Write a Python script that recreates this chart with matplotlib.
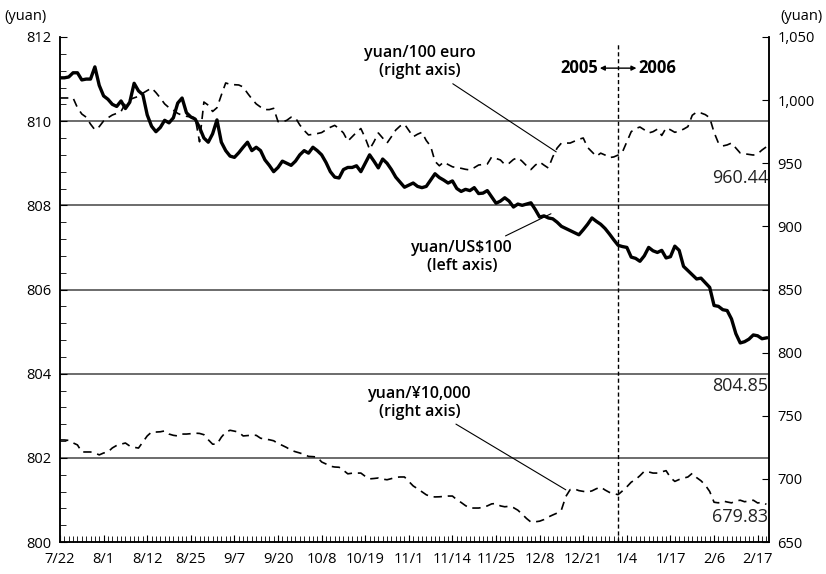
import matplotlib.pyplot as plt
import numpy as np
from matplotlib.ticker import FuncFormatter, MultipleLocator

plt.rcParams['font.family'] = ['Open Sans', 'DejaVu Sans']

# yuan per US$100 (left axis)
usd = [
    811.03, 811.03, 811.05, 811.15, 811.15, 810.98, 811.00, 811.00, 811.29, 810.85,
    810.60, 810.52, 810.40, 810.35, 810.48, 810.30, 810.45, 810.90, 810.72, 810.63,
    810.15, 809.88, 809.75, 809.85, 810.02, 809.96, 810.08, 810.43, 810.55, 810.20,
    810.10, 810.05, 809.85, 809.60, 809.50, 809.70, 810.03, 809.50, 809.30, 809.17,
    809.14, 809.25, 809.38, 809.50, 809.30, 809.38, 809.30, 809.08, 808.95, 808.80,
    808.90, 809.05, 809.00, 808.95, 809.05, 809.20, 809.30, 809.24, 809.38, 809.30,
    809.20, 809.02, 808.80, 808.67, 808.65, 808.85, 808.90, 808.90, 808.94, 808.80,
    809.00, 809.20, 809.05, 808.89, 809.10, 809.00, 808.85, 808.67, 808.55, 808.43,
    808.48, 808.53, 808.45, 808.42, 808.45, 808.60, 808.75, 808.66, 808.60, 808.53,
    808.58, 808.40, 808.33, 808.38, 808.35, 808.42, 808.28, 808.29, 808.35, 808.20,
    808.05, 808.10, 808.18, 808.10, 807.96, 808.03, 808.00, 808.03, 808.06, 807.90,
    807.72, 807.75, 807.70, 807.68, 807.60, 807.50, 807.45, 807.40, 807.35, 807.30,
    807.42, 807.55, 807.70, 807.62, 807.55, 807.45, 807.32, 807.18, 807.05, 807.02,
    807.00, 806.77, 806.74, 806.67, 806.80, 807.00, 806.92, 806.88, 806.93, 806.75,
    806.78, 807.03, 806.93, 806.55, 806.45, 806.35, 806.25, 806.27, 806.16, 806.05,
    805.62, 805.60, 805.52, 805.50, 805.30, 804.95, 804.73, 804.76, 804.82, 804.92,
    804.90, 804.83, 804.85,
]

# yuan per 100 euro (right axis)
euro = [
    1001.7, 1001.7, 1001.7, 1001.7, 994.0, 989.0, 986.5, 981.0, 976.5, 979.0,
    983.5, 986.0, 988.2, 989.5, 991.0, 997.5, 1000.5, 1001.8, 1003.0, 1005.5,
    1007.5, 1009.6, 1006.0, 1001.7, 997.0, 994.0, 992.0, 989.5, 988.0, 987.2,
    986.6, 986.0, 967.0, 998.5, 996.0, 991.0, 994.0, 1004.0, 1013.6, 1012.5,
    1012.2, 1012.0, 1010.4, 1005.5, 1001.0, 997.0, 994.5, 992.5, 992.5, 993.5,
    983.0, 982.7, 984.0, 986.5, 986.0, 980.3, 976.0, 972.4, 973.0, 973.5,
    974.3, 976.5, 978.5, 980.0, 977.5, 974.0, 967.5, 971.0, 974.5, 977.5,
    970.0, 961.0, 967.0, 974.0, 970.0, 966.0, 971.0, 976.3, 979.5, 981.0,
    976.0, 971.0, 973.0, 974.5, 968.0, 963.5, 951.5, 948.0, 951.0, 949.0,
    947.2, 946.5, 946.0, 945.2, 944.7, 946.5, 948.6, 949.0, 949.4, 955.0,
    953.8, 952.6, 949.0, 950.0, 953.0, 954.5, 951.5, 948.0, 945.0, 948.5,
    951.0, 948.5, 946.2, 955.0, 962.0, 966.0, 966.0, 966.0, 967.5, 969.0,
    970.0, 962.5, 959.0, 955.5, 958.0, 956.5, 954.5, 955.0, 956.5, 959.0,
    967.0, 975.0, 977.5, 978.7, 976.5, 974.0, 975.0, 977.0, 972.0, 978.0,
    976.5, 974.5, 975.5, 977.0, 979.0, 988.0, 990.5, 989.8, 988.5, 986.0,
    974.5, 966.0, 963.7, 964.5, 966.0, 962.0, 958.1, 957.5, 957.0, 956.5,
    957.5, 960.5, 963.0,
]

# yuan per 10,000 yen (right axis)
yen = [
    730.8, 730.8, 730.5, 728.5, 726.9, 721.3, 721.3, 721.3, 720.5, 719.0,
    720.5, 721.3, 724.5, 726.5, 727.5, 728.4, 726.0, 725.0, 724.4, 729.2,
    734.0, 737.1, 737.1, 737.3, 738.0, 735.5, 734.5, 734.0, 735.5, 735.5,
    735.8, 736.2, 736.0, 735.0, 731.0, 727.5, 727.5, 733.0, 737.0, 738.5,
    737.8, 737.0, 734.0, 734.3, 734.6, 734.5, 732.2, 731.5, 731.0, 730.2,
    728.0, 726.5, 724.8, 722.6, 721.5, 720.5, 719.3, 717.8, 717.6, 717.3,
    713.4, 711.8, 710.0, 709.4, 709.2, 706.8, 704.0, 704.5, 704.6, 704.6,
    702.0, 700.0, 700.3, 700.7, 699.8, 699.3, 700.2, 701.3, 701.5, 701.5,
    698.0, 694.4, 692.2, 689.8, 687.4, 686.0, 685.7, 685.8, 686.1, 686.4,
    686.4, 683.5, 681.3, 678.8, 676.9, 676.9, 676.9, 677.4, 678.6, 680.2,
    680.5, 678.6, 677.9, 678.3, 677.2, 675.2, 672.0, 668.6, 665.8, 666.0,
    666.5, 667.8, 669.8, 671.4, 672.9, 675.5, 686.0, 691.5, 692.0, 690.7,
    690.1, 689.6, 690.5, 692.2, 693.5, 691.2, 689.3, 688.3, 687.5, 690.5,
    693.7, 697.4, 699.5, 702.5, 706.0, 705.5, 704.6, 704.6, 705.6, 706.5,
    701.0, 698.0, 699.5, 700.6, 701.5, 704.4, 701.0, 698.5, 695.0, 690.0,
    681.5, 681.0, 682.5, 681.7, 681.0, 682.5, 683.1, 681.9, 682.5, 683.1,
    680.9, 681.5, 679.83,
]

# latest values written at the right end of each line
last_euro, last_usd, last_yen = 960.44, 804.85, 679.83

date_labels = ['7/22', '8/1', '8/12', '8/25', '9/7', '9/20', '10/8', '10/19', '11/1',
               '11/14', '11/25', '12/8', '12/21', '1/4', '1/17', '2/6', '2/17']
label_step = 10
first_2006 = 128  # first data point of 2006

x = np.arange(len(usd))

fig = plt.figure(figsize=(8.26, 5.74), dpi=100)
ax = fig.add_axes([60 / 826, 1 - 542 / 574, 709 / 826, 505 / 574])
ax2 = ax.twinx()

ax.set_xlim(0, 162.6)
ax.set_ylim(800, 812)
ax2.set_ylim(650, 1050)

# horizontal rules at the inner left-axis ticks
for v in range(802, 812, 2):
    ax.axhline(v, color='#444444', lw=1.1, zorder=0)

ax.plot(x, usd, color='black', lw=2.4, zorder=3)
ax2.plot(x, euro, color='black', lw=1.2, dashes=(5, 3.5))
ax2.plot(x, yen, color='black', lw=1.2, dashes=(5, 3.5))

ax.axvline(first_2006, color='black', lw=1.0, dashes=(3, 2), ymax=0.99)

# axes, ticks
ax.spines['top'].set_visible(False)
ax2.spines['top'].set_visible(False)
ax.set_xticks(np.arange(0, len(usd), label_step))
ax.set_xticklabels(date_labels)
ax.set_xticks(x, minor=True)
ax.tick_params(axis='x', which='major', direction='in', length=5, labelsize=10.5, pad=7)
ax.tick_params(axis='x', which='minor', direction='in', length=4)
ax.set_yticks(range(800, 813, 2))
ax.yaxis.set_minor_locator(MultipleLocator(0.4))
ax.tick_params(axis='y', which='major', direction='in', length=5, labelsize=10.5, pad=6)
ax.tick_params(axis='y', which='minor', direction='in', length=4)
ax2.set_yticks(range(650, 1051, 50))
ax2.yaxis.set_major_formatter(FuncFormatter(lambda v, p: f'{int(v):,}'))
ax2.tick_params(axis='y', direction='in', length=5, labelsize=10.5, pad=6)
for a in (ax, ax2):
    for s in a.spines.values():
        s.set_linewidth(1.1)

fig.text(4 / 826, 1 - 16 / 574, '(yuan)', ha='left', va='center', fontsize=10.5)
fig.text(823 / 826, 1 - 16 / 574, '(yuan)', ha='right', va='center', fontsize=10.5)

# annotations (left-axis coordinates)
lbl = dict(ha='center', va='center', fontsize=11.5, fontweight='semibold', linespacing=1.2)
ax.annotate('yuan/100 euro\n(right axis)', xy=(113.8, 809.27), xytext=(82.6, 811.4),
            arrowprops=dict(arrowstyle='-', lw=0.8, color='black', shrinkA=2, shrinkB=0), **lbl)
ax.annotate('yuan/US$100\n(left axis)', xy=(112.6, 807.8), xytext=(92.2, 806.77),
            arrowprops=dict(arrowstyle='-', lw=0.8, color='black', shrinkA=2, shrinkB=0), **lbl)
ax.annotate('yuan/¥10,000\n(right axis)', xy=(116, 801.24), xytext=(82.6, 803.31),
            arrowprops=dict(arrowstyle='-', lw=0.8, color='black', shrinkA=2, shrinkB=0), **lbl)

ax.text(first_2006 - 4.6, 811.26, '2005', ha='right', va='center', fontsize=12, fontweight='bold')
ax.text(first_2006 + 4.6, 811.26, '2006', ha='left', va='center', fontsize=12, fontweight='bold')
ax.annotate('', xy=(first_2006 - 4.2, 811.26), xytext=(first_2006 + 4.2, 811.26),
            arrowprops=dict(arrowstyle='<|-|>', lw=1.0, color='black', mutation_scale=7,
                            shrinkA=0, shrinkB=0))

val = dict(ha='right', va='center', fontsize=13, color='#222222')
ax2.text(162.4, 938, f'{last_euro:.2f}', **val)
ax.text(162.4, 803.7, f'{last_usd:.2f}', **val)
ax2.text(162.4, 669.5, f'{last_yen:.2f}', **val)

fig.savefig('out.png', dpi=100)
